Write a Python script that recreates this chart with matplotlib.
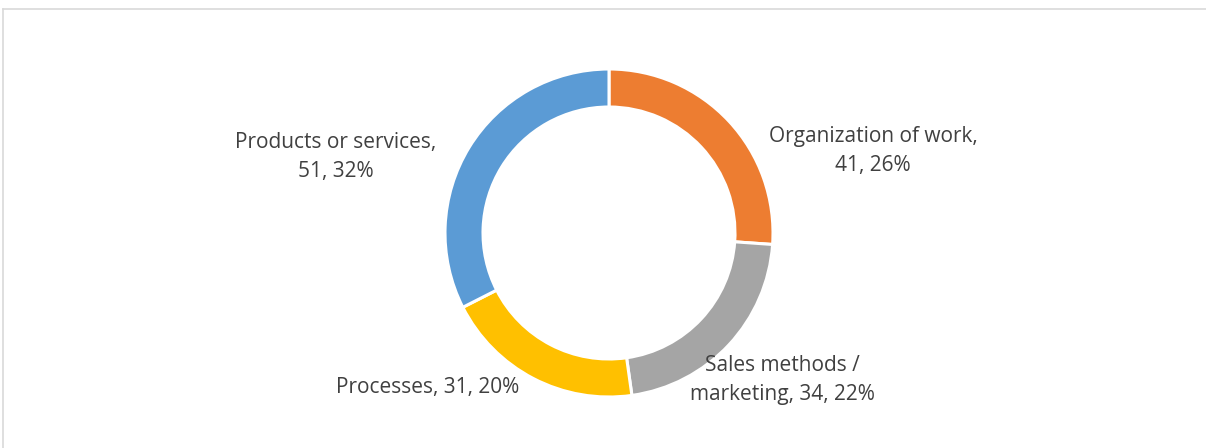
import matplotlib
matplotlib.use("Agg")
import matplotlib.pyplot as plt
from matplotlib.lines import Line2D

categories = ["Organization of work", "Sales methods /\nmarketing", "Processes", "Products or services"]
values = [41, 34, 31, 51]
colors = ["#ED7D31", "#A5A5A5", "#FFC000", "#5B9BD5"]
label_pos = [(873, 151), (782, 380), (428, 388), (336, 157)]
label_fmt = ["{c},\n{v}, {p}%", "{c}, {v}, {p}%", "{c}, {v}, {p}%", "{c},\n{v}, {p}%"]

W, H = 1206, 448
fig = plt.figure(figsize=(W / 100, H / 100), dpi=100)
ax = fig.add_axes([0, 0, 1, 1])
ax.set_aspect("equal")
ax.axis("off")

ax.pie(values, colors=colors, startangle=90, counterclock=False,
       center=(609, H - 233), radius=164,
       wedgeprops=dict(width=38, edgecolor="white", linewidth=2.2))
ax.set_xlim(0, W)
ax.set_ylim(0, H)

total = sum(values)
for cat, v, (x, y), fmt in zip(categories, values, label_pos, label_fmt):
    p = round(100 * v / total)
    txt = fmt.format(c=cat, v=v, p=p)
    ax.text(x, H - y, txt, ha="center", va="center", fontsize=15,
            color="#404040", family=["Open Sans", "DejaVu Sans"],
            linespacing=1.55)

# chart-area border (top and left visible)
fig.add_artist(Line2D([3.5 / W, 1], [1 - 9.5 / H, 1 - 9.5 / H], color="#D9D9D9", lw=1.2))
fig.add_artist(Line2D([3.5 / W, 3.5 / W], [0, 1 - 9.5 / H], color="#D9D9D9", lw=1.2))

fig.savefig("out.png", dpi=100)
